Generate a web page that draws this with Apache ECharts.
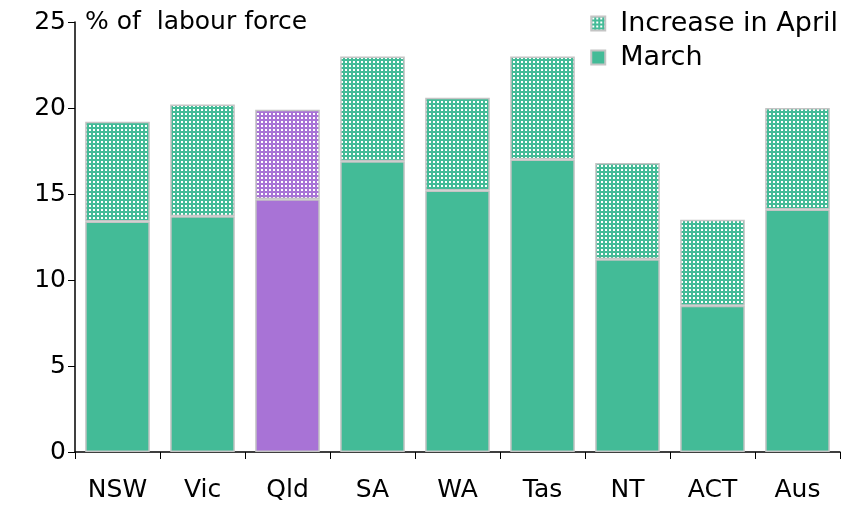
<!DOCTYPE html>
<html>
<head>
<meta charset="utf-8">
<script src="https://cdn.jsdelivr.net/npm/echarts@6/dist/echarts.min.js"></script>
<style>
  html, body { margin: 0; padding: 0; background: #fff; }
  #chart { width: 843px; height: 507px; }
</style>
</head>
<body>
<div id="chart"></div>
<script>
var states = ['NSW', 'Vic', 'Qld', 'SA', 'WA', 'Tas', 'NT', 'ACT', 'Aus']
var march = [13.4, 13.7, 14.7, 16.9, 15.2, 17.0, 11.2, 8.5, 14.1]
var increaseApril = [5.8, 6.5, 5.2, 6.1, 5.4, 6.0, 5.6, 5.0, 5.9]
var highlight = 'Qld'

var GREEN = '#43bb97'
var PURPLE = '#a873d6'
var FONT = 'DejaVu Sans'

// dotted fill for the April increase
function dots(base) {
  var c = document.createElement('canvas')
  c.width = 4
  c.height = 4
  var ctx = c.getContext('2d')
  ctx.fillStyle = base
  ctx.fillRect(0, 0, 4, 4)
  ctx.fillStyle = '#ffffff'
  ctx.fillRect(1, 1, 2, 2)
  return { image: c, repeat: 'repeat' }
}

function marchData() {
  return march.map(function (v, i) {
    if (states[i] === highlight) return { value: v, itemStyle: { color: PURPLE } }
    return v
  })
}

function aprilData() {
  return increaseApril.map(function (v, i) {
    if (states[i] === highlight) return { value: v, itemStyle: { color: dots(PURPLE) } }
    return v
  })
}

var chart = echarts.init(document.getElementById('chart'))
chart.setOption({
  animation: false,
  textStyle: { fontFamily: FONT },
  grid: { left: 75, right: 3, top: 22, bottom: 55 },
  title: {
    text: '% of  labour force',
    left: 80,
    top: 5,
    textStyle: { fontFamily: FONT, fontSize: 25, fontWeight: 'normal', color: '#000' }
  },
  legend: {
    orient: 'vertical',
    right: 0,
    top: 5,
    icon: 'rect',
    itemWidth: 14,
    itemHeight: 14,
    itemGap: 7,
    data: ['Increase in April', 'March'],
    textStyle: { fontFamily: FONT, fontSize: 27, color: '#000', padding: [0, 0, 0, 10] }
  },
  xAxis: {
    type: 'category',
    data: states,
    axisLine: { lineStyle: { color: '#000', width: 1.5 } },
    axisTick: { show: true, length: 7, lineStyle: { color: '#000' } },
    axisLabel: { color: '#000', fontSize: 25, margin: 26, fontFamily: FONT }
  },
  yAxis: {
    type: 'value',
    min: 0,
    max: 25,
    interval: 5,
    splitLine: { show: false },
    axisLine: { show: true, lineStyle: { color: '#000', width: 1.5 } },
    axisTick: { show: true, length: 7, lineStyle: { color: '#000' } },
    axisLabel: { color: '#000', fontSize: 25, margin: 9, fontFamily: FONT }
  },
  series: [
    {
      name: 'March',
      type: 'bar',
      stack: 'total',
      barCategoryGap: '24%',
      data: marchData(),
      itemStyle: { color: GREEN, borderColor: '#c4c4c4', borderWidth: 1.5 }
    },
    {
      name: 'Increase in April',
      type: 'bar',
      stack: 'total',
      data: aprilData(),
      itemStyle: { color: dots(GREEN), borderColor: '#c4c4c4', borderWidth: 1.5 }
    }
  ]
})
</script>
</body>
</html>
